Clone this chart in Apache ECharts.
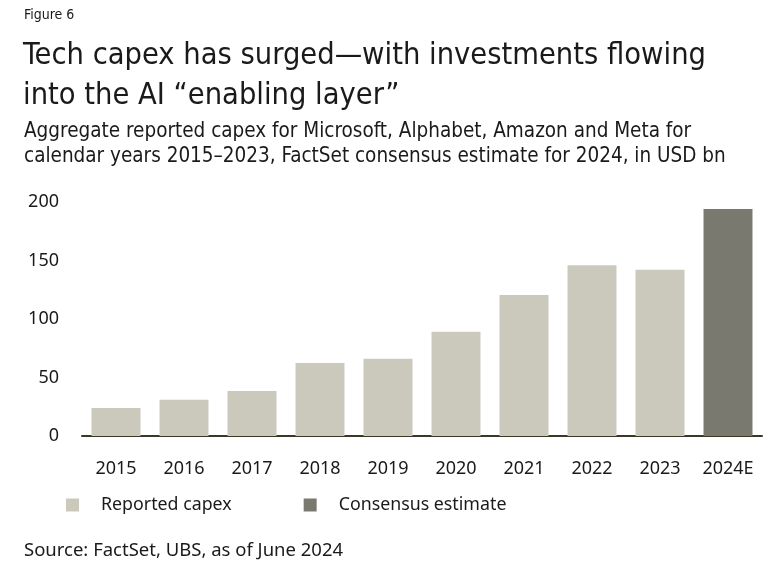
<!DOCTYPE html>
<html><head><meta charset="utf-8">
<script src="https://cdn.jsdelivr.net/npm/echarts@6/dist/echarts.min.js"></script>
<style>html,body{margin:0;padding:0;background:#fff}#c{width:782px;height:573px}</style>
</head><body><div id="c"></div>
<script>
var categories = ['2015','2016','2017','2018','2019','2020','2021','2022','2023','2024E'];
var reported = [24, 31, 38.5, 62.5, 66, 89, 120.5, 146, 142, null];
var estimate = [null, null, null, null, null, null, null, null, null, 194];
var yTicks = [0, 50, 100, 150, 200];

var chart = echarts.init(document.getElementById('c'), null, {renderer: 'canvas'});
var txt = '#1a1a1a';
var condensed = '"DejaVu Sans Condensed", "Noto Sans", sans-serif';
var regular = '"Noto Sans", "Open Sans", sans-serif';
chart.setOption({
  animation: false,
  title: [
    {text: 'Figure 6', left: 24, top: 8, padding: 0, textStyle: {fontFamily: condensed, fontSize: 14, fontWeight: 'normal', color: txt}},
    {text: 'Tech capex has surged\u2014with investments flowing\ninto the AI \u201cenabling layer\u201d', left: 23, top: 36, padding: 0,
      textStyle: {fontFamily: condensed, fontSize: 30.5, fontWeight: 'normal', color: txt, lineHeight: 40}},
    {text: 'Aggregate reported capex for Microsoft, Alphabet, Amazon and Meta for\ncalendar years 2015\u20132023, FactSet consensus estimate for 2024, in USD bn', left: 24, top: 119, padding: 0,
      textStyle: {fontFamily: condensed, fontSize: 20.5, fontWeight: 'normal', color: txt, lineHeight: 25}},
    {text: 'Source: FactSet, UBS, as of June 2024', left: 24, top: 541, padding: 0,
      textStyle: {fontFamily: regular, fontSize: 18.5, fontWeight: 'normal', color: txt}}
  ],
  legend: {
    left: 66, top: 496, padding: 0, itemWidth: 13, itemHeight: 13, itemGap: 72, icon: 'rect',
    textStyle: {fontFamily: regular, fontSize: 17.8, color: txt, padding: [0, 0, 0, 17]},
    data: ['Reported capex', 'Consensus estimate']
  },
  grid: {left: 82, right: 20, top: 202, bottom: 137},
  xAxis: {
    type: 'category', data: categories,
    axisLine: {lineStyle: {color: '#3a3826', width: 2}},
    axisTick: {show: false},
    axisLabel: {fontFamily: regular, fontSize: 18, color: txt, margin: 24, interval: 0}
  },
  yAxis: {
    type: 'value', min: yTicks[0], max: yTicks[yTicks.length-1], interval: 50,
    splitLine: {show: false}, axisLine: {show: false}, axisTick: {show: false},
    axisLabel: {fontFamily: regular, fontSize: 18, color: txt, margin: 23}
  },
  series: [
    {name: 'Reported capex', type: 'bar', data: reported, barCategoryGap: '28%', barGap: '-100%',
      itemStyle: {color: '#cbc9bc'}},
    {name: 'Consensus estimate', type: 'bar', data: estimate, barCategoryGap: '28%', barGap: '-100%',
      itemStyle: {color: '#7a7970'}}
  ]
});
</script></body></html>
